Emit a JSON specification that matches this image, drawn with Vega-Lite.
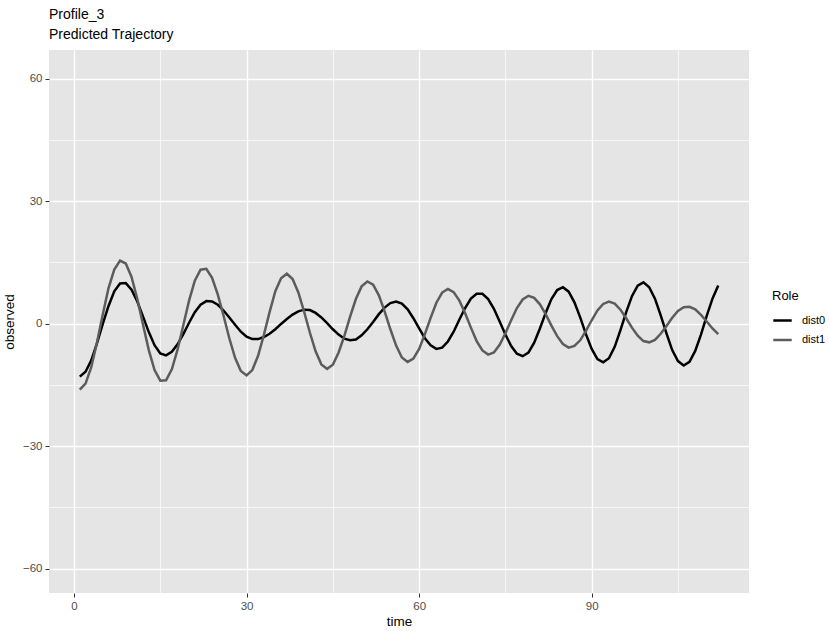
{
  "$schema": "https://vega.github.io/schema/vega-lite/v6.json",
  "width": 700,
  "height": 543,
  "autosize": {"type": "none"},
  "padding": {"left": 49, "top": 50, "right": 80, "bottom": 38},
  "background": "white",
  "title": {
    "text": "Profile_3",
    "subtitle": "Predicted Trajectory",
    "anchor": "start",
    "frame": "group",
    "font": "Liberation Sans",
    "fontSize": 14,
    "fontWeight": "normal",
    "color": "black",
    "subtitleFont": "Liberation Sans",
    "subtitleFontSize": 14,
    "subtitleColor": "black",
    "subtitlePadding": 6,
    "offset": 8
  },
  "data": {
    "values": [
      {"time": 1, "dist0": -13.0, "dist1": -16.2},
      {"time": 2, "dist0": -11.8, "dist1": -14.7},
      {"time": 3, "dist0": -9.0, "dist1": -10.7},
      {"time": 4, "dist0": -4.8, "dist1": -4.6},
      {"time": 5, "dist0": -0.1, "dist1": 2.2},
      {"time": 6, "dist0": 4.3, "dist1": 8.7},
      {"time": 7, "dist0": 7.9, "dist1": 13.2},
      {"time": 8, "dist0": 9.8, "dist1": 15.4},
      {"time": 9, "dist0": 9.9, "dist1": 14.7},
      {"time": 10, "dist0": 8.3, "dist1": 11.4},
      {"time": 11, "dist0": 5.4, "dist1": 6.0},
      {"time": 12, "dist0": 1.7, "dist1": -0.3},
      {"time": 13, "dist0": -2.1, "dist1": -6.5},
      {"time": 14, "dist0": -5.3, "dist1": -11.4},
      {"time": 15, "dist0": -7.3, "dist1": -14.0},
      {"time": 16, "dist0": -7.8, "dist1": -13.9},
      {"time": 17, "dist0": -6.9, "dist1": -11.2},
      {"time": 18, "dist0": -5.1, "dist1": -6.4},
      {"time": 19, "dist0": -2.6, "dist1": -0.4},
      {"time": 20, "dist0": 0.2, "dist1": 5.6},
      {"time": 21, "dist0": 2.8, "dist1": 10.5},
      {"time": 22, "dist0": 4.6, "dist1": 13.2},
      {"time": 23, "dist0": 5.5, "dist1": 13.4},
      {"time": 24, "dist0": 5.4, "dist1": 11.2},
      {"time": 25, "dist0": 4.6, "dist1": 7.1},
      {"time": 26, "dist0": 3.2, "dist1": 1.9},
      {"time": 27, "dist0": 1.5, "dist1": -3.6},
      {"time": 28, "dist0": -0.3, "dist1": -8.4},
      {"time": 29, "dist0": -2.0, "dist1": -11.6},
      {"time": 30, "dist0": -3.2, "dist1": -12.7},
      {"time": 31, "dist0": -3.8, "dist1": -11.4},
      {"time": 32, "dist0": -3.8, "dist1": -7.9},
      {"time": 33, "dist0": -3.3, "dist1": -2.8},
      {"time": 34, "dist0": -2.5, "dist1": 2.8},
      {"time": 35, "dist0": -1.4, "dist1": 7.9},
      {"time": 36, "dist0": -0.1, "dist1": 11.1},
      {"time": 37, "dist0": 1.1, "dist1": 12.2},
      {"time": 38, "dist0": 2.2, "dist1": 10.9},
      {"time": 39, "dist0": 3.0, "dist1": 7.6},
      {"time": 40, "dist0": 3.4, "dist1": 2.9},
      {"time": 41, "dist0": 3.3, "dist1": -2.2},
      {"time": 42, "dist0": 2.6, "dist1": -6.8},
      {"time": 43, "dist0": 1.5, "dist1": -10.0},
      {"time": 44, "dist0": 0.1, "dist1": -11.1},
      {"time": 45, "dist0": -1.4, "dist1": -10.1},
      {"time": 46, "dist0": -2.7, "dist1": -7.1},
      {"time": 47, "dist0": -3.7, "dist1": -3.0},
      {"time": 48, "dist0": -4.1, "dist1": 1.7},
      {"time": 49, "dist0": -3.9, "dist1": 6.0},
      {"time": 50, "dist0": -2.9, "dist1": 9.1},
      {"time": 51, "dist0": -1.4, "dist1": 10.3},
      {"time": 52, "dist0": 0.4, "dist1": 9.5},
      {"time": 53, "dist0": 2.3, "dist1": 6.9},
      {"time": 54, "dist0": 3.9, "dist1": 3.0},
      {"time": 55, "dist0": 5.0, "dist1": -1.4},
      {"time": 56, "dist0": 5.4, "dist1": -5.4},
      {"time": 57, "dist0": 4.9, "dist1": -8.3},
      {"time": 58, "dist0": 3.5, "dist1": -9.4},
      {"time": 59, "dist0": 1.3, "dist1": -8.6},
      {"time": 60, "dist0": -1.2, "dist1": -6.2},
      {"time": 61, "dist0": -3.6, "dist1": -2.6},
      {"time": 62, "dist0": -5.3, "dist1": 1.4},
      {"time": 63, "dist0": -6.2, "dist1": 5.1},
      {"time": 64, "dist0": -5.9, "dist1": 7.6},
      {"time": 65, "dist0": -4.4, "dist1": 8.5},
      {"time": 66, "dist0": -2.0, "dist1": 7.7},
      {"time": 67, "dist0": 1.0, "dist1": 5.6},
      {"time": 68, "dist0": 3.8, "dist1": 2.5},
      {"time": 69, "dist0": 6.1, "dist1": -1.0},
      {"time": 70, "dist0": 7.3, "dist1": -4.3},
      {"time": 71, "dist0": 7.3, "dist1": -6.6},
      {"time": 72, "dist0": 6.0, "dist1": -7.6},
      {"time": 73, "dist0": 3.6, "dist1": -7.1},
      {"time": 74, "dist0": 0.5, "dist1": -5.2},
      {"time": 75, "dist0": -2.7, "dist1": -2.4},
      {"time": 76, "dist0": -5.5, "dist1": 0.8},
      {"time": 77, "dist0": -7.4, "dist1": 3.8},
      {"time": 78, "dist0": -8.0, "dist1": 5.9},
      {"time": 79, "dist0": -7.1, "dist1": 6.8},
      {"time": 80, "dist0": -4.7, "dist1": 6.3},
      {"time": 81, "dist0": -1.2, "dist1": 4.7},
      {"time": 82, "dist0": 2.6, "dist1": 2.3},
      {"time": 83, "dist0": 6.0, "dist1": -0.5},
      {"time": 84, "dist0": 8.2, "dist1": -3.1},
      {"time": 85, "dist0": 8.9, "dist1": -5.0},
      {"time": 86, "dist0": 7.8, "dist1": -5.9},
      {"time": 87, "dist0": 5.2, "dist1": -5.5},
      {"time": 88, "dist0": 1.5, "dist1": -4.1},
      {"time": 89, "dist0": -2.6, "dist1": -1.8},
      {"time": 90, "dist0": -6.2, "dist1": 0.8},
      {"time": 91, "dist0": -8.7, "dist1": 3.2},
      {"time": 92, "dist0": -9.5, "dist1": 4.8},
      {"time": 93, "dist0": -8.5, "dist1": 5.4},
      {"time": 94, "dist0": -5.7, "dist1": 4.9},
      {"time": 95, "dist0": -1.6, "dist1": 3.4},
      {"time": 96, "dist0": 2.8, "dist1": 1.3},
      {"time": 97, "dist0": 6.7, "dist1": -1.0},
      {"time": 98, "dist0": 9.3, "dist1": -3.0},
      {"time": 99, "dist0": 10.1, "dist1": -4.3},
      {"time": 100, "dist0": 8.9, "dist1": -4.6},
      {"time": 101, "dist0": 6.1, "dist1": -4.0},
      {"time": 102, "dist0": 2.0, "dist1": -2.5},
      {"time": 103, "dist0": -2.4, "dist1": -0.6},
      {"time": 104, "dist0": -6.5, "dist1": 1.4},
      {"time": 105, "dist0": -9.2, "dist1": 3.1},
      {"time": 106, "dist0": -10.3, "dist1": 4.0},
      {"time": 107, "dist0": -9.4, "dist1": 4.1},
      {"time": 108, "dist0": -6.7, "dist1": 3.5},
      {"time": 109, "dist0": -2.7, "dist1": 2.1},
      {"time": 110, "dist0": 1.9, "dist1": 0.5},
      {"time": 111, "dist0": 6.1, "dist1": -1.2},
      {"time": 112, "dist0": 9.3, "dist1": -2.6}
    ]
  },
  "transform": [{"fold": ["dist0", "dist1"], "as": ["Role", "observed"]}],
  "layer": [
    {
      "mark": {"type": "line", "strokeOpacity": 0},
      "encoding": {
        "x": {
          "field": "time", "type": "quantitative",
          "scale": {"domain": [-4.35, 117.35], "nice": false, "zero": false},
          "axis": {"orient": "bottom", "values": [15, 45, 75, 105], "labels": false, "ticks": false, "domain": false, "title": null, "grid": true, "gridColor": "white", "gridWidth": 0.7}
        },
        "y": {
          "field": "observed", "type": "quantitative",
          "scale": {"domain": [-66, 67], "nice": false, "zero": false},
          "axis": {"orient": "left", "values": [-45, -15, 15, 45], "labels": false, "ticks": false, "domain": false, "title": null, "grid": true, "gridColor": "white", "gridWidth": 0.7}
        },
        "detail": {"field": "Role", "type": "nominal"}
      }
    },
    {
      "mark": {"type": "line", "strokeWidth": 2.5},
      "encoding": {
        "x": {
          "field": "time", "type": "quantitative",
          "axis": {"orient": "bottom", "values": [0, 30, 60, 90], "title": "time", "grid": true, "gridColor": "white", "gridWidth": 1.4}
        },
        "y": {
          "field": "observed", "type": "quantitative",
          "axis": {"orient": "left", "values": [-60, -30, 0, 30, 60], "title": "observed", "grid": true, "gridColor": "white", "gridWidth": 1.4}
        },
        "color": {
          "field": "Role", "type": "nominal",
          "scale": {"domain": ["dist0", "dist1"], "range": ["#000000", "#5c5c5c"]},
          "legend": {
            "orient": "none", "legendX": 723, "legendY": 240,
            "title": "Role", "symbolType": "stroke", "symbolStrokeWidth": 2.5, "symbolSize": 340,
            "rowPadding": 3.5, "labelOffset": 9, "titlePadding": 7
          }
        }
      }
    }
  ],
  "resolve": {"axis": {"x": "independent", "y": "independent"}},
  "config": {
    "view": {"fill": "#e5e5e5", "stroke": null},
    "font": "Liberation Sans",
    "axis": {
      "domain": false,
      "tickColor": "#333333",
      "tickSize": 4,
      "tickWidth": 1,
      "labelFont": "Liberation Sans",
      "labelFontSize": 11.5,
      "labelColor": "#4d4d4d",
      "labelPadding": 3,
      "titleFont": "Liberation Sans",
      "titleFontSize": 13.5,
      "titleFontWeight": "normal",
      "titleColor": "black"
    },
    "axisX": {"titlePadding": 3},
    "axisY": {"titlePadding": 6},
    "legend": {
      "titleFont": "Liberation Sans",
      "titleFontSize": 13,
      "titleFontWeight": "normal",
      "titleColor": "black",
      "labelFont": "Liberation Sans",
      "labelFontSize": 11,
      "labelColor": "black"
    }
  }
}
